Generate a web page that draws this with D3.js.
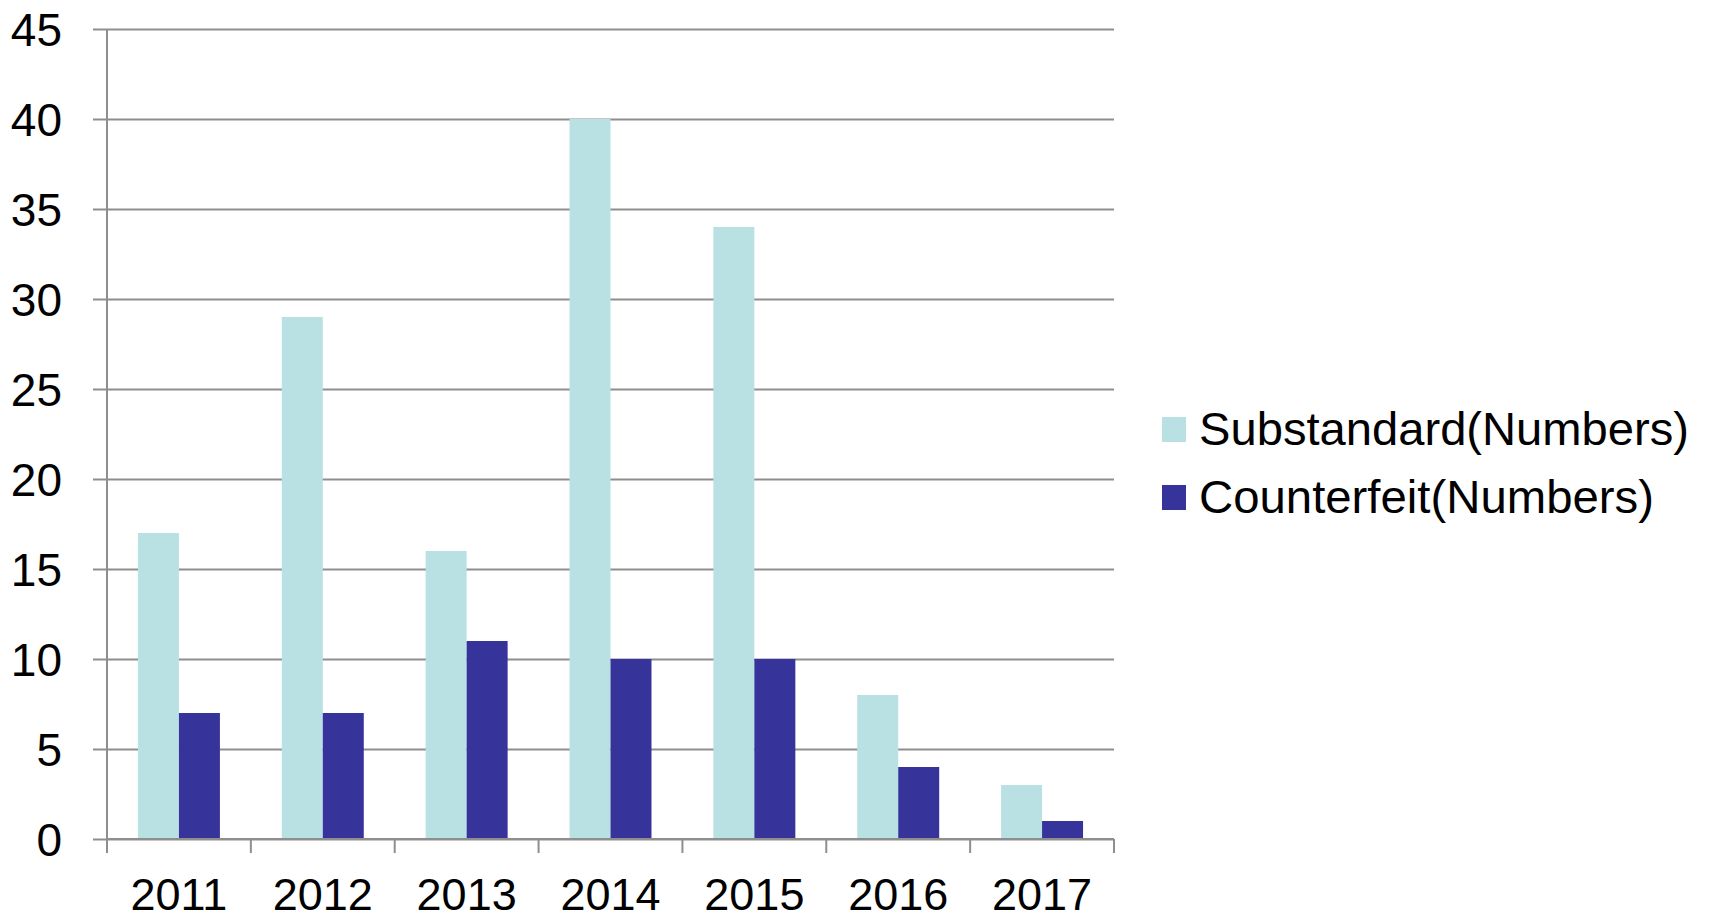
<!DOCTYPE html>
<html>
<head>
<meta charset="utf-8">
<script src="https://cdn.jsdelivr.net/npm/d3@7"></script>
<style>
  body { margin: 0; background: #fff; }
  text { font-family: "Liberation Sans", Arial, sans-serif; fill: #000; }
</style>
</head>
<body>
<div id="chart"></div>
<script>
let years = ['2011', '2012', '2013', '2014', '2015', '2016', '2017']
let substandard = [17, 29, 16, 40, 34, 8, 3]
let counterfeit = [7, 7, 11, 10, 10, 4, 1]
let seriesNames = ['Substandard(Numbers)', 'Counterfeit(Numbers)']
let yTicks = [0, 5, 10, 15, 20, 25, 30, 35, 40, 45]

let width = 1709,
    height = 916,
    margin = { top: 29, right: 595, bottom: 77, left: 107 }

let colors = ['#b9e0e3', '#36349a']
let gridColor = '#8e8e8e'

let svg = d3.select('#chart').append('svg')
    .attr('width', width)
    .attr('height', height)

let x = d3.scaleBand()
    .domain(years)
    .range([margin.left, width - margin.right])

// two bars per year, ~31px gap on each side
let inner = d3.scaleBand()
    .domain([0, 1])
    .range([0, x.bandwidth()])
    .paddingOuter(0.755)
    .paddingInner(0)

let y = d3.scaleLinear()
    .domain([0, 45])
    .range([height - margin.bottom, margin.top])

// gridlines + y labels
let yAxis = g => g
    .attr('transform', `translate(${margin.left},0)`)
    .call(d3.axisLeft(y).tickValues(yTicks).tickSize(-(width - margin.right - margin.left)).tickPadding(45))
    .call(g => g.select('.domain').remove())
    .call(g => g.selectAll('.tick line')
        .attr('x1', -14)
        .attr('stroke', gridColor)
        .attr('stroke-width', 2))
    .call(g => g.selectAll('.tick text')
        .attr('font-size', 46)
        .attr('dy', '0.36em'))

svg.append('g').call(yAxis)

// bars
let data = years.map((yr, i) => ({ year: yr, values: [substandard[i], counterfeit[i]] }))

svg.append('g').selectAll('g')
    .data(data)
    .enter().append('g')
    .attr('transform', d => `translate(${x(d.year)},0)`)
    .selectAll('rect')
    .data(d => d.values)
    .enter().append('rect')
    .attr('x', (v, i) => inner(i))
    .attr('width', inner.bandwidth())
    .attr('y', v => y(v))
    .attr('height', v => y(0) - y(v))
    .attr('fill', (v, i) => colors[i])

// vertical axis line
svg.append('line')
    .attr('x1', margin.left).attr('x2', margin.left)
    .attr('y1', y(45)).attr('y2', y(0))
    .attr('stroke', gridColor)
    .attr('stroke-width', 2)

// x axis
let xAxis = g => g
    .attr('transform', `translate(0,${y(0)})`)
    .call(d3.axisBottom(x).tickSize(0).tickPadding(39))
    .call(g => g.select('.domain').remove())
    .call(g => g.selectAll('.tick text')
        .attr('font-size', 45)
        .attr('dy', '0.71em'))

svg.append('g').call(xAxis)

// category separators
let edges = years.map(d => x(d)).concat([x(years[years.length - 1]) + x.bandwidth()])
svg.append('g').selectAll('line')
    .data(edges)
    .enter().append('line')
    .attr('x1', d => d).attr('x2', d => d)
    .attr('y1', y(0)).attr('y2', y(0) + 14)
    .attr('stroke', gridColor)
    .attr('stroke-width', 2)

svg.append('line')
    .attr('x1', margin.left).attr('x2', width - margin.right)
    .attr('y1', y(0)).attr('y2', y(0))
    .attr('stroke', gridColor)
    .attr('stroke-width', 2)

// legend
let legend = svg.append('g')
    .attr('transform', 'translate(1162,417)')

let items = legend.selectAll('g')
    .data(seriesNames)
    .enter().append('g')
    .attr('transform', (d, i) => `translate(0,${i * 68})`)

items.append('rect')
    .attr('width', 24)
    .attr('height', 25)
    .attr('fill', (d, i) => colors[i])

items.append('text')
    .attr('x', 37)
    .attr('y', 28)
    .attr('font-size', 47)
    .attr('textLength', (d, i) => i === 0 ? 490 : 455)
    .attr('lengthAdjust', 'spacingAndGlyphs')
    .text(d => d)
</script>
</body>
</html>
